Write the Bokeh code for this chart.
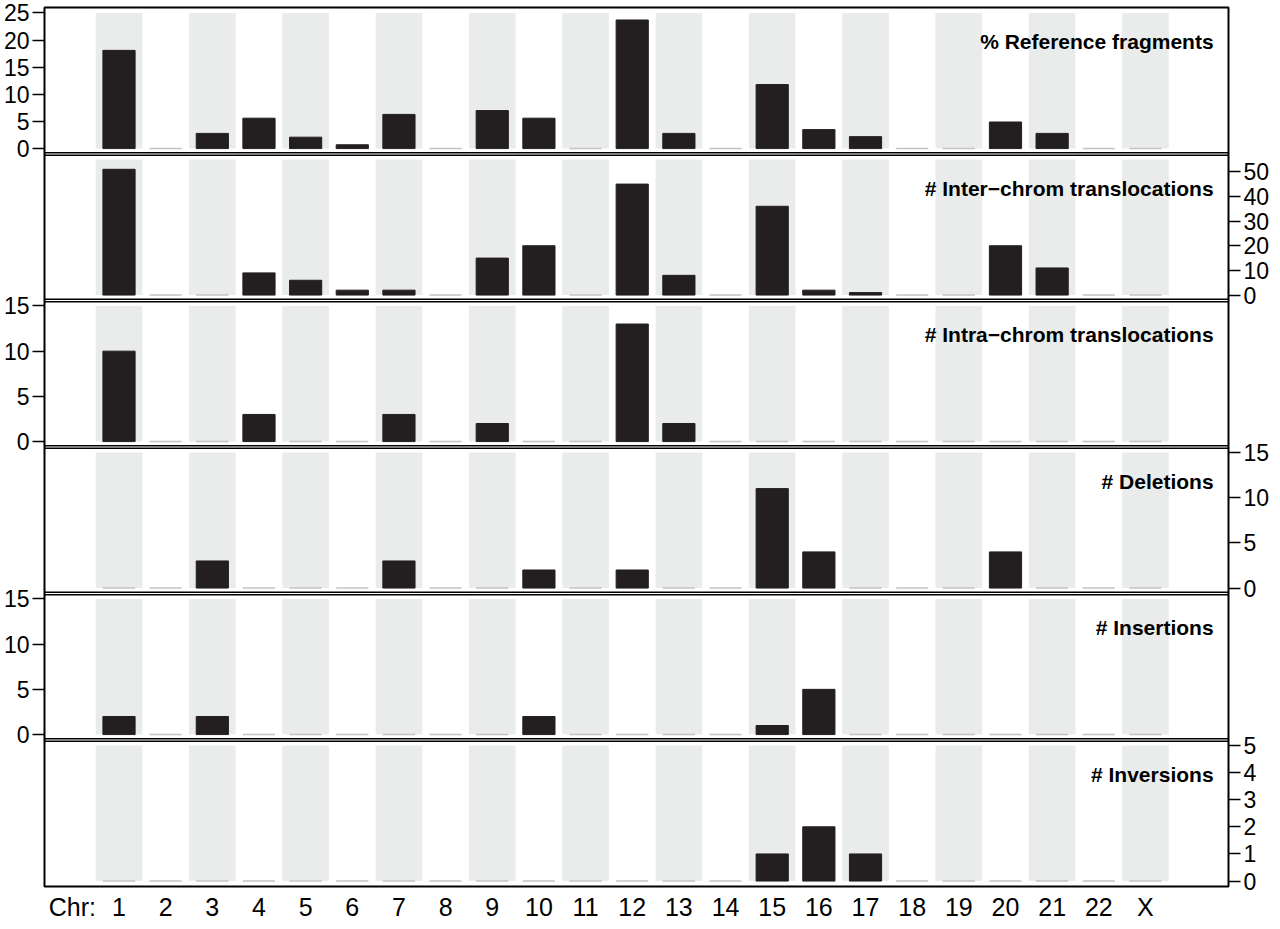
from bokeh.plotting import figure
from bokeh.models import LinearAxis, FixedTicker, Label, ColumnDataSource, Range1d
from bokeh.embed import file_html
from bokeh.resources import INLINE

chromosomes = ["1", "2", "3", "4", "5", "6", "7", "8", "9", "10", "11", "12",
               "13", "14", "15", "16", "17", "18", "19", "20", "21", "22", "X"]

ref_fragments = [18.1, 0, 2.8, 5.6, 2.1, 0.7, 6.3, 0, 7.0, 5.6, 0, 23.7,
                 2.8, 0, 11.8, 3.5, 2.2, 0, 0, 4.9, 2.8, 0, 0]
inter_chrom = [51, 0, 0, 9, 6, 2, 2, 0, 15, 20, 0, 45,
               8, 0, 36, 2, 1, 0, 0, 20, 11, 0, 0]
intra_chrom = [10, 0, 0, 3, 0, 0, 3, 0, 2, 0, 0, 13,
               2, 0, 0, 0, 0, 0, 0, 0, 0, 0, 0]
deletions = [0, 0, 3, 0, 0, 0, 3, 0, 0, 2, 0, 2,
             0, 0, 11, 4, 0, 0, 0, 4, 0, 0, 0]
insertions = [2, 0, 2, 0, 0, 0, 0, 0, 0, 2, 0, 0,
              0, 0, 1, 5, 0, 0, 0, 0, 0, 0, 0]
inversions = [0, 0, 0, 0, 0, 0, 0, 0, 0, 0, 0, 0,
              0, 0, 1, 2, 1, 0, 0, 0, 0, 0, 0]

titles = ["% Reference fragments", "# Inter\u2212chrom translocations",
          "# Intra\u2212chrom translocations", "# Deletions", "# Insertions", "# Inversions"]
ymaxes = [25, 55, 15, 15, 15, 5]
yticks = [[0, 5, 10, 15, 20, 25], [0, 10, 20, 30, 40, 50], [0, 5, 10, 15],
          [0, 5, 10, 15], [0, 5, 10, 15], [0, 1, 2, 3, 4, 5]]
sides = ["left", "right", "left", "right", "left", "right"]
series = [ref_fragments, inter_chrom, intra_chrom, deletions, insertions, inversions]

FONT = "Liberation Sans"
FRAME_W = 1184
P = 146.5                      # panel height in px
NP = len(series)
TOTAL = NP * P
X_START, X_END = -0.597, 24.78
BAR_W = 0.69
BAR_COLOR = "#231f20"
BAND_COLOR = "#eaeceb"
ZERO_COLOR = "#c4c4c4"

xpos = list(range(1, len(chromosomes) + 1))
band_x = [x for x in xpos if x % 2 == 1]

p = figure(frame_width=FRAME_W, frame_height=int(TOTAL),
           x_range=Range1d(X_START, X_END), y_range=Range1d(0, TOTAL),
           x_axis_location=None, y_axis_location=None,
           toolbar_location=None, output_backend="svg",
           min_border_left=40, min_border_right=40,
           min_border_top=7, min_border_bottom=0)
p.grid.visible = False
p.outline_line_color = "black"
p.outline_line_width = 2
p.background_fill_color = "white"
p.border_fill_color = "white"

ticks = {"left": [], "right": []}
overrides = {"left": {}, "right": {}}

for i, vals in enumerate(series):
    M = ymaxes[i]
    bottom_px = TOTAL - (i + 1) * P
    u = 1.08 * M / P            # data units per px
    start = -0.04 * M - bottom_px * u
    name = f"panel{i}"
    p.extra_y_ranges[name] = Range1d(start, start + TOTAL * u)

    p.vbar(x=band_x, width=1.0, bottom=0, top=M, fill_color=BAND_COLOR,
           line_color=None, y_range_name=name)

    z = ColumnDataSource(dict(x=[x for x, v in zip(xpos, vals) if v == 0],
                              top=[v for v in vals if v == 0]))
    nz = ColumnDataSource(dict(x=[x for x, v in zip(xpos, vals) if v > 0],
                               top=[v for v in vals if v > 0]))
    p.vbar(x="x", top="top", bottom=0, width=BAR_W, source=z,
           fill_color=None, line_color=ZERO_COLOR, line_width=1.5,
           y_range_name=name)
    p.vbar(x="x", top="top", bottom=0, width=BAR_W, source=nz,
           fill_color=BAR_COLOR, line_color=BAR_COLOR, line_width=1,
           y_range_name=name)

    for v in yticks[i]:
        pos = round(bottom_px + (v + 0.04 * M) / u, 3)
        ticks[sides[i]].append(pos)
        overrides[sides[i]][pos] = str(v)

    p.add_layout(Label(x=24.46, y=1.04 * M - 34 * u, y_range_name=name,
                       text=titles[i], text_align="right",
                       text_baseline="alphabetic",
                       text_font=FONT, text_font_style="bold",
                       text_font_size="21px", text_color="black"))

# panel separators (double line)
for k in range(1, NP):
    yb = TOTAL - k * P
    p.segment(x0=[X_START, X_START], x1=[X_END, X_END],
              y0=[yb - 1.2, yb + 1.2], y1=[yb - 1.2, yb + 1.2],
              line_color="black", line_width=1.5)

for side in ("left", "right"):
    ax = LinearAxis(ticker=FixedTicker(ticks=ticks[side]),
                    major_label_overrides=overrides[side],
                    axis_line_color=None,
                    major_tick_out=12, major_tick_in=0,
                    major_tick_line_width=1.5, major_tick_line_color="black",
                    minor_tick_line_color=None,
                    major_label_text_font=FONT,
                    major_label_text_font_size="23px",
                    major_label_text_color="black",
                    major_label_standoff=3)
    p.add_layout(ax, side)

xt = [0] + xpos
xover = {0: "Chr:"}
for x, c in zip(xpos, chromosomes):
    xover[x] = c
xax = LinearAxis(ticker=FixedTicker(ticks=xt),
                 major_label_overrides=xover,
                 axis_line_color=None,
                 major_tick_out=0, major_tick_in=0,
                 major_tick_line_color=None,
                 minor_tick_line_color=None,
                 major_label_text_font=FONT,
                 major_label_text_font_size="25px",
                 major_label_text_color="black",
                 major_label_standoff=6)
p.add_layout(xax, "below")

open("out.html", "w").write(file_html(p, INLINE))
